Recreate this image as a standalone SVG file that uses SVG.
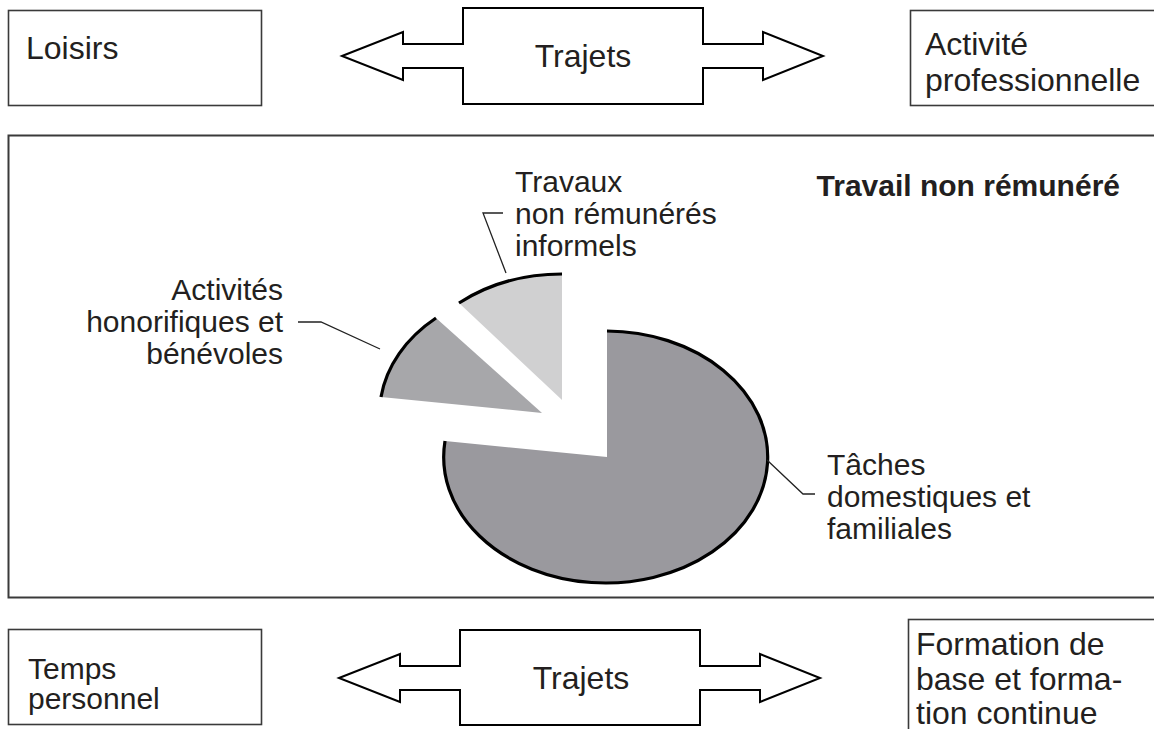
<svg xmlns="http://www.w3.org/2000/svg" width="1154" height="729" viewBox="0 0 1154 729">
<style>
  .box { fill: #fff; stroke: #3a3a3a; stroke-width: 1.6; }
  .arrow { fill: #fff; stroke: #000; stroke-width: 2; stroke-linejoin: miter; }
  .t { font-family: "Liberation Sans", Arial, Helvetica, sans-serif; font-size: 32px; fill: #231f20; }
  .s { font-size: 30px; }
  .b { font-weight: bold; font-size: 30px; }
  .lead { fill: none; stroke: #222; stroke-width: 1.3; }
  .rim { fill: none; stroke: #000; stroke-width: 3.2; }
</style>
<rect width="1154" height="729" fill="#fff"/>

<g id="loisirs">
  <rect class="box" x="8.5" y="10.5" width="253" height="95"/>
  <text class="t" x="26" y="59">Loisirs</text>
</g>
<g id="trajets-top">
  <polygon class="arrow" points="342,56 403,32 403,44 463,44 463,8 703,8 703,44 763,44 763,32 823,56 763,80 763,68 703,68 703,104 463,104 463,68 403,68 403,80"/>
  <text class="t" x="583" y="67" text-anchor="middle">Trajets</text>
</g>
<g id="activite-pro">
  <rect class="box" x="910.5" y="10.5" width="260" height="95"/>
  <text class="t" x="925" y="55">Activité</text>
  <text class="t" x="925" y="91">professionnelle</text>
</g>

<g id="travail-non-remunere">
  <rect class="box" x="8.5" y="135.5" width="1160" height="462" style="stroke-width:2"/>
  <text class="t b" x="1120" y="196" text-anchor="end">Travail non rémunéré</text>
</g>

<g id="pie">
  <g id="slice-taches">
    <path d="M607,457 L607,331 A162,126 0 1 1 445,441 Z" fill="#9a999e"/>
    <path class="rim" d="M607,331 A162,126 0 1 1 445,441"/>
  </g>
  <g id="slice-activites">
    <path d="M542,413 L381,397 A162,126 0 0 1 436,318 Z" fill="#a7a7aa"/>
    <path class="rim" d="M381,397 A162,126 0 0 1 436,318"/>
  </g>
  <g id="slice-travaux">
    <path d="M562,400 L459,303 A162,126 0 0 1 562,274 Z" fill="#d0d0d1"/>
    <path class="rim" d="M459,303 A162,126 0 0 1 562,274"/>
  </g>
</g>

<g id="labels">
  <g id="label-travaux">
    <text class="t s" x="515" y="192">Travaux</text>
    <text class="t s" x="515" y="224">non rémunérés</text>
    <text class="t s" x="515" y="256">informels</text>
  </g>
  <g id="label-activites">
    <text class="t s" x="283" y="300" text-anchor="end">Activités</text>
    <text class="t s" x="283" y="332" text-anchor="end">honorifiques et</text>
    <text class="t s" x="283" y="364" text-anchor="end">bénévoles</text>
  </g>
  <g id="label-taches">
    <text class="t s" x="827" y="475">Tâches</text>
    <text class="t s" x="827" y="507">domestiques et</text>
    <text class="t s" x="827" y="539">familiales</text>
  </g>
</g>

<g id="connectors">
  <polyline class="lead" points="503,213 483,213 506,273"/>
  <polyline class="lead" points="298,322 321,322 380,349"/>
  <polyline class="lead" points="767,460 803,494 815,494"/>
</g>

<g id="temps-personnel">
  <rect class="box" x="8.5" y="629.5" width="253" height="95"/>
  <text class="t s" x="28" y="679">Temps</text>
  <text class="t s" x="28" y="709">personnel</text>
</g>
<g id="trajets-bottom">
  <polygon class="arrow" points="339,678 400,654 400,666 460,666 460,630 700,630 700,666 760,666 760,654 820,678 760,702 760,690 700,690 700,725 460,725 460,690 400,690 400,702"/>
  <text class="t" x="581" y="689" text-anchor="middle">Trajets</text>
</g>
<g id="formation">
  <rect class="box" x="908.5" y="619.5" width="260" height="120"/>
  <text class="t" x="916" y="655">Formation de</text>
  <text class="t" x="916" y="690">base et forma-</text>
  <text class="t" x="916" y="724">tion continue</text>
</g>
</svg>
